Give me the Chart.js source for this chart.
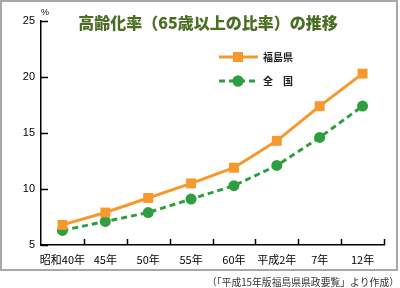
<!DOCTYPE html>
<html>
<head>
<meta charset="utf-8">
<script src="https://cdn.jsdelivr.net/npm/chart.js@4/dist/chart.umd.min.js"></script>
<style>
  html, body { margin: 0; padding: 0; background: #fff; }
  #wrap { width: 400px; height: 288px; position: relative; }
</style>
</head>
<body>
<div id="wrap"><canvas id="chart" width="400" height="288"></canvas></div>
<script>
(function() {
    'use strict';

    var labels = ['昭和40年', '45年', '50年', '55年', '60年', '平成2年', '7年', '12年'];
    var fukushima = [6.8, 7.9, 9.2, 10.5, 11.9, 14.3, 17.4, 20.3];
    var zenkoku = [6.3, 7.1, 7.9, 9.1, 10.3, 12.1, 14.6, 17.4];
    var yTicks = [5, 10, 15, 20, 25];

    var titleText = '高齢化率（65歳以上の比率）の推移';
    var sourceText = '（「平成15年版福島県県政要覧」より作成）';
    var jpFont = '"Noto Sans CJK JP", "Liberation Sans", sans-serif';

    var orange = '#f5992c';
    var green = '#2f9e42';

    // frame, title, legend, inward tick marks, source note
    var decor = {
        id: 'decor',
        beforeDraw: function(chart) {
            var ctx = chart.ctx;
            ctx.save();
            ctx.fillStyle = '#fff';
            ctx.fillRect(0, 0, 400, 288);
            ctx.strokeStyle = '#a8a8a8';
            ctx.lineWidth = 2;
            ctx.strokeRect(1, 1, 396, 269);
            ctx.restore();
        },
        afterDraw: function(chart) {
            var ctx = chart.ctx,
                area = chart.chartArea,
                ys = chart.scales.y;
            ctx.save();

            // tick marks pointing into the plot
            ctx.strokeStyle = '#000';
            ctx.lineWidth = 1.5;
            ctx.beginPath();
            for (var i = 0; i < yTicks.length; i++) {
                var py = Math.round(ys.getPixelForValue(yTicks[i])) + 0.5;
                ctx.moveTo(area.left, py);
                ctx.lineTo(area.left + 7, py);
            }
            var step = (area.right - area.left) / labels.length;
            for (var j = 1; j <= labels.length; j++) {
                var px = Math.round(area.left + step * j) + 0.5;
                ctx.moveTo(px, area.bottom);
                ctx.lineTo(px, area.bottom - 6);
            }
            ctx.stroke();

            // title
            ctx.fillStyle = '#4b6e22';
            ctx.font = '900 16px ' + jpFont;
            ctx.textAlign = 'center';
            ctx.textBaseline = 'middle';
            ctx.fillText(titleText, 208, 23);

            // unit
            ctx.fillStyle = '#000';
            ctx.font = '9px "Liberation Sans", sans-serif';
            ctx.fillText('%', 45, 13);

            // legend
            var items = [
                { ds: chart.data.datasets[0], y: 57, text: '福島県' },
                { ds: chart.data.datasets[1], y: 81, text: '全　国' }
            ];
            items.forEach(function(it) {
                var ds = it.ds;
                ctx.strokeStyle = ds.borderColor;
                ctx.lineWidth = ds.borderWidth;
                ctx.setLineDash(ds.borderDash || []);
                ctx.beginPath();
                ctx.moveTo(219, it.y);
                ctx.lineTo(258, it.y);
                ctx.stroke();
                ctx.setLineDash([]);
                ctx.fillStyle = ds.pointBackgroundColor;
                Chart.helpers.drawPoint(ctx, {
                    pointStyle: ds.pointStyle,
                    radius: ds.pointRadius,
                    borderWidth: 0
                }, 238, it.y);
                ctx.fill();
                ctx.fillStyle = '#222';
                ctx.font = 'bold 10px ' + jpFont;
                ctx.textAlign = 'left';
                ctx.fillText(it.text, 263, it.y);
            });

            // source note
            ctx.fillStyle = '#333';
            ctx.font = '9.8px ' + jpFont;
            ctx.textAlign = 'right';
            ctx.fillText(sourceText, 399, 282);

            ctx.restore();
        }
    };

    new Chart(document.getElementById('chart'), {
        type: 'line',
        data: {
            labels: labels,
            datasets: [{
                label: '福島県',
                data: fukushima,
                borderColor: orange,
                backgroundColor: orange,
                borderWidth: 3,
                pointStyle: 'rect',
                pointRadius: 7,
                pointBackgroundColor: orange,
                pointBorderWidth: 0,
                fill: false,
                tension: 0
            }, {
                label: '全　国',
                data: zenkoku,
                borderColor: green,
                backgroundColor: green,
                borderWidth: 3,
                borderDash: [6, 4],
                pointStyle: 'circle',
                pointRadius: 5.5,
                pointBackgroundColor: green,
                pointBorderWidth: 0,
                fill: false,
                tension: 0
            }]
        },
        options: {
            responsive: false,
            animation: false,
            layout: { padding: { top: 21, right: 16, left: 0, bottom: 0 } },
            plugins: {
                legend: { display: false },
                title: { display: false },
                tooltip: { enabled: false }
            },
            scales: {
                x: {
                    type: 'category',
                    offset: true,
                    grid: { display: false, drawTicks: false },
                    border: { display: true, color: '#000', width: 1.5 },
                    ticks: {
                        color: '#000',
                        font: { family: jpFont, size: 11 },
                        padding: 8,
                        maxRotation: 0,
                        autoSkip: false
                    },
                    afterFit: function(scale) { scale.height = 43; }
                },
                y: {
                    min: 5,
                    max: 25,
                    afterBuildTicks: function(scale) {
                        scale.ticks = yTicks.map(function(v) { return { value: v }; });
                    },
                    grid: { display: false, drawTicks: false },
                    border: { display: true, color: '#000', width: 1.5 },
                    ticks: {
                        color: '#000',
                        font: { family: '"Liberation Sans", sans-serif', size: 11 },
                        padding: 6
                    },
                    afterFit: function(scale) { scale.width = 41; }
                }
            }
        },
        plugins: [decor]
    });
})();
</script>
</body>
</html>
